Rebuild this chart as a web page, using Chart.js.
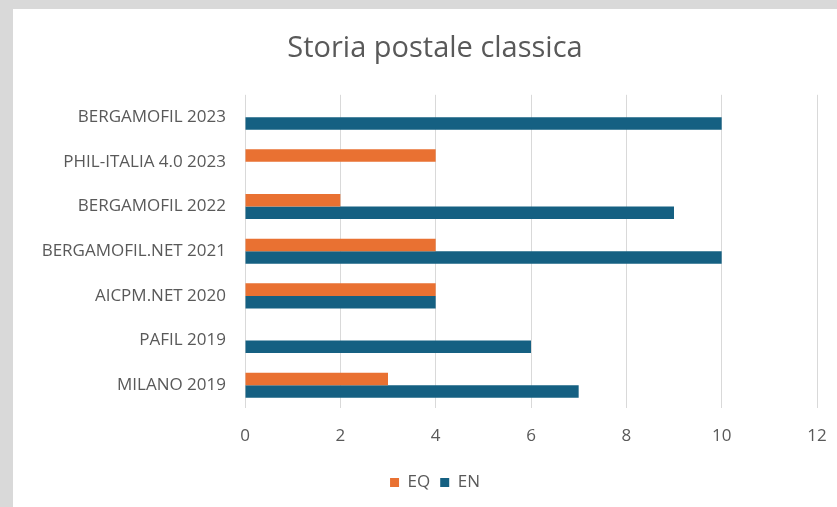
<!DOCTYPE html>
<html>
<head>
<meta charset="utf-8">
<script src="https://cdn.jsdelivr.net/npm/chart.js@4"></script>
<style>
  html, body { margin: 0; padding: 0; background: #d9d9d9; overflow: hidden; }
  #panel { position: absolute; left: 13px; top: 9px; width: 900px; height: 600px; background: #fff; }
  #wrap { position: absolute; left: 13px; top: 0; width: 844px; height: 507px; }
</style>
</head>
<body>
<div id="panel"></div>
<div id="wrap"><canvas id="myChart"></canvas></div>
<script>
// données du graphique
const categories = ['BERGAMOFIL 2023', 'PHIL-ITALIA 4.0 2023', 'BERGAMOFIL 2022', 'BERGAMOFIL.NET 2021', 'AICPM.NET 2020', 'PAFIL 2019', 'MILANO 2019'];
const eqValues = [null, 4, 2, 4, 4, null, 3];
const enValues = [10, null, 9, 10, 4, 6, 7];
const xTicks = [0, 2, 4, 6, 8, 10, 12];

const textColor = '#595959';
const fontFamily = '"Open Sans", "Noto Sans", sans-serif';

// laisser les libellés longs déborder dans la marge de gauche
const unclipLabels = {
    id: 'unclipLabels',
    afterLayout(chart) {
        chart.scales.y.left = 0;
    }
};

let ctx = document.getElementById('myChart').getContext('2d');
let myChart = new Chart(ctx, {
    type: 'bar',
    data: {
        labels: categories,
        datasets: [
            { label: 'EQ', data: eqValues, backgroundColor: '#E97132', barPercentage: 1, categoryPercentage: 0.56 },
            { label: 'EN', data: enValues, backgroundColor: '#156082', barPercentage: 1, categoryPercentage: 0.56 }
        ]
    },
    plugins: [unclipLabels],
    options: {
        indexAxis: 'y',
        responsive: true,
        maintainAspectRatio: false,
        animation: false,
        layout: { padding: { top: 28, right: 40, left: 40, bottom: 6 } },
        scales: {
            x: {
                min: 0,
                max: 12,
                afterBuildTicks: scale => { scale.ticks = xTicks.map(v => ({ value: v })); },
                grid: { color: '#d9d9d9', drawTicks: false },
                border: { display: false },
                ticks: { color: textColor, padding: 18, font: { family: fontFamily, size: 17 } }
            },
            y: {
                afterFit: scale => { scale.width = 192; },
                grid: { display: false, drawTicks: false },
                border: { display: false },
                ticks: { color: textColor, padding: 19, font: { family: fontFamily, size: 17 } }
            }
        },
        plugins: {
            title: {
                display: true,
                text: 'Storia postale classica',
                color: textColor,
                font: { family: fontFamily, size: 29, weight: 'normal' },
                padding: { top: 3, bottom: 29 }
            },
            legend: {
                position: 'bottom',
                labels: { color: textColor, boxWidth: 9, boxHeight: 9, padding: 10, font: { family: fontFamily, size: 17 } }
            },
            tooltip: { enabled: false }
        }
    }
});
</script>
</body>
</html>
